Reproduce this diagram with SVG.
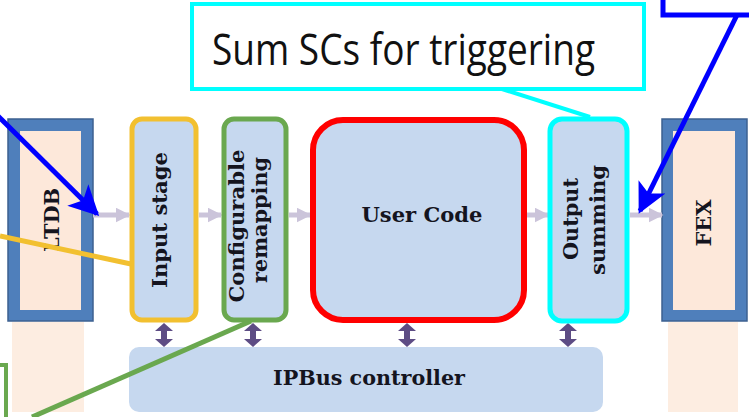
<svg xmlns="http://www.w3.org/2000/svg" width="749" height="417" viewBox="0 0 749 417">
<defs>
<style>
.lbl{font-family:"DejaVu Serif","Liberation Serif",serif;font-weight:bold;fill:#14141e;}
.blk{fill:#c6d8ef;}
.flow{stroke:#cbc4da;stroke-width:5;fill:none;}
.ext{fill:#4f7fbb;stroke:#3d6090;stroke-width:1.5;}
.peach{fill:#fde8da;}
</style>
<marker id="fh" viewBox="0 0 10 10" refX="9" refY="5" markerWidth="3" markerHeight="3" orient="auto" markerUnits="strokeWidth">
<path d="M0,0 L10,5 L0,10 z" fill="#cbc4da"/>
</marker>
<marker id="blue" viewBox="0 0 10 10" refX="9" refY="5" markerWidth="7.5" markerHeight="6" orient="auto" markerUnits="strokeWidth">
<path d="M0,0 L10,5 L0,10 L2.5,5 z" fill="#0000ff"/>
</marker>
<path id="dbl" d="M0,-12 L9,-4 L3,-4 L3,4 L9,4 L0,12 L-9,4 L-3,4 L-3,-4 L-9,-4 z" fill="#5d4c84"/>
</defs>
<rect width="749" height="417" fill="#ffffff"/>

<g id="LTDB">
<rect class="peach" x="12" y="322" width="72" height="90" opacity="0.8"/>
<rect class="ext" x="8" y="119" width="85" height="202"/>
<rect class="peach" x="20" y="131" width="61" height="179"/>
<text class="lbl" font-size="20" text-anchor="middle" textLength="64" lengthAdjust="spacingAndGlyphs" transform="translate(59,220) rotate(-90)">LTDB</text>
</g>

<g id="FEX">
<rect class="peach" x="668" y="322" width="70" height="90" opacity="0.8"/>
<rect class="ext" x="662" y="119" width="85" height="202"/>
<rect class="peach" x="673" y="131" width="62" height="179"/>
<text class="lbl" font-size="20" text-anchor="middle" textLength="47" lengthAdjust="spacingAndGlyphs" transform="translate(711,223) rotate(-90)">FEX</text>
</g>

<g id="connectors">
<line class="flow" x1="93" y1="215" x2="129" y2="215" marker-end="url(#fh)"/>
<line class="flow" x1="199" y1="215" x2="221" y2="215" marker-end="url(#fh)"/>
<line class="flow" x1="289" y1="215" x2="310" y2="215" marker-end="url(#fh)"/>
<line class="flow" x1="527" y1="215" x2="548" y2="215" marker-end="url(#fh)"/>
<line class="flow" x1="630" y1="215" x2="662" y2="215" marker-end="url(#fh)"/>
<use href="#dbl" x="164" y="335"/>
<use href="#dbl" x="253" y="335"/>
<use href="#dbl" x="407" y="335"/>
<use href="#dbl" x="568" y="335"/>
</g>

<g id="input-stage">
<rect class="blk" x="132" y="119" width="64" height="201" rx="10" stroke="#f2c030" stroke-width="5"/>
<text class="lbl" font-size="20" text-anchor="middle" textLength="136" lengthAdjust="spacingAndGlyphs" transform="translate(167,220) rotate(-90)">Input stage</text>
</g>

<g id="configurable-remapping">
<rect class="blk" x="224" y="119" width="62" height="201" rx="10" stroke="#6aa84f" stroke-width="5"/>
<text class="lbl" font-size="20" text-anchor="middle" textLength="153" lengthAdjust="spacingAndGlyphs" transform="translate(244,226) rotate(-90)">Configurable</text>
<text class="lbl" font-size="20" text-anchor="middle" textLength="126" lengthAdjust="spacingAndGlyphs" transform="translate(267,220) rotate(-90)">remapping</text>
</g>

<g id="user-code">
<rect class="blk" x="313" y="120" width="211" height="200" rx="30" stroke="#ff0000" stroke-width="6"/>
<text class="lbl" font-size="20" text-anchor="middle" textLength="121" lengthAdjust="spacingAndGlyphs" x="422" y="222">User Code</text>
</g>

<g id="output-summing">
<rect class="blk" x="550" y="119" width="77" height="202" rx="12" stroke="#00ffff" stroke-width="5"/>
<text class="lbl" font-size="20" text-anchor="middle" textLength="82" lengthAdjust="spacingAndGlyphs" transform="translate(578,219) rotate(-90)">Output</text>
<text class="lbl" font-size="20" text-anchor="middle" textLength="110" lengthAdjust="spacingAndGlyphs" transform="translate(605,220) rotate(-90)">summing</text>
</g>

<g id="ipbus-controller">
<rect class="blk" x="129" y="347" width="474" height="65" rx="10"/>
<text class="lbl" font-size="20" text-anchor="middle" textLength="192" lengthAdjust="spacingAndGlyphs" x="369" y="385">IPBus controller</text>
</g>

<g id="callout-sum">
<rect x="192" y="4" width="452" height="85" fill="#ffffff" stroke="#00ffff" stroke-width="4"/>
<text x="212" y="65" font-family="'Open Sans','Noto Sans',sans-serif" font-size="43" fill="#111111" textLength="383" lengthAdjust="spacingAndGlyphs">Sum SCs for triggering</text>
<line x1="502" y1="89" x2="590" y2="117" stroke="#00ffff" stroke-width="4"/>
</g>

<g id="callout-annotations">
<polyline points="663,0 663,15 749,15" fill="none" stroke="#0000ff" stroke-width="5"/>
<line x1="737" y1="15" x2="640" y2="211" stroke="#0000ff" stroke-width="5" marker-end="url(#blue)"/>
<line x1="-2" y1="116" x2="97" y2="214" stroke="#0000ff" stroke-width="5" marker-end="url(#blue)"/>
<line x1="0" y1="236" x2="131" y2="264" stroke="#f2c030" stroke-width="5"/>
<polyline points="0,365 6,365 6,417" fill="none" stroke="#6aa84f" stroke-width="4"/>
<line x1="32" y1="417" x2="251" y2="321" stroke="#6aa84f" stroke-width="5"/>
</g>
</svg>
